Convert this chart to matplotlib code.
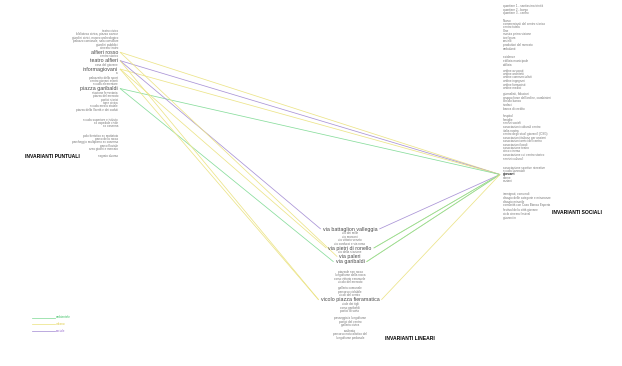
import matplotlib
matplotlib.use("Agg")
import matplotlib.pyplot as plt

plt.rcParams['font.family'] = ['Liberation Sans', 'DejaVu Sans']

# ---------------- data ----------------
# each column is a list of groups of labels
puntuali = [
    ["teatro civico", "biblioteca civica, piazza cavour", "giardini civici, museo archeologico",
     "palazzo comunale, sala consiliare", "giardini pubblici", "cinema teatro",
     "alfieri rosso", "centro storico", "teatro alfieri", "casa del giovane", "informagiovani", "a"],
    ["palazzetto dello sport", "centro giovani eventi", "scuola elementare",
     "piazza garibaldi", "stazione ferroviaria", "piazza del mercato", "portici storici",
     "torre civica", "scuola media statale", "piazza della libertà e dei caduti"],
    ["scuola superiore e istituto", "ex ospedale civile", "ex caserma"],
    ["polo fieristico ex mattatoio", "parco della rocca", "parcheggio multipiano ex caserma",
     "parco fluviale", "area giochi e mercato"],
]

sociali = [
    ["quartiere 1 - santissima trinità", "quartiere 2 - borgo", "quartiere 3 - centro"],
    ["Nuovo", "commercianti del centro storico", "centro tutela", "Cine",
     "mostra prima visione", "cineforum", "cestelli", "produttori del mercato", "ambulanti"],
    ["residenze", "edilizia municipale", "edilizia"],
    ["ordine avvocati", "ordine architetti", "ordine commercialisti", "ordine ingegneri",
     "ordine farmacisti", "ordine medici"],
    ["giornalisti, fiduciari", "gruppo forze dell'ordine, carabinieri", "circolo banca",
     "sindaci", "banca di credito"],
    ["hospital", "famiglie", "servizi sociali", "associazioni culturali centro",
     "italia nostra", "centro degli studi giovanili (CSG)", "associazioni italiane per anziani",
     "associazioni amici del centro", "associazioni locali", "associazione teatro",
     "circo cinema", "associazione cui centro storico", "servizi culturali"],
    ["associazione sportive ricreative", "scuola lavoratori", "giovani", "donne", "anziani"],
    ["immigrati, comunali", "disagio delle categorie e minoranze", "disagio minorile",
     "comunità con Casa Bianca Esperia"],
    ["festival della città giovane", "ciclo cinema festival", "giovani in"],
]

lineari = [
    ["via battaglion valleggia", "via dei mille", "via marconi", "via vittorio veneto",
     "via carducci e via roma", "via pietri di ronello", "via della stazione",
     "via paleri", "via garibaldi"],
    ["piazzale san rocco", "lungofiume della rocca", "corso vittorio emanuele", "vicolo del mercato"],
    ["galleria comunale", "percorso ciclabile", "vicoli del centro",
     "vicolo piazza fieramatica", "viale dei tigli", "corso garibaldi", "portici di sotto"],
    ["passeggiata lungofiume", "portici del centro", "galleria civica"],
    ["scalinata", "percorso naturalistico del", "lungofiume pedonale"],
]

hub_puntuali = ["alfieri rosso", "teatro alfieri", "informagiovani", "piazza garibaldi"]
hub_sociali = ["giovani"]
hub_lineari = ["via battaglion valleggia", "via pietri di ronello", "via paleri",
               "via garibaldi", "vicolo piazza fieramatica"]

categorie = ["ambientale", "urbano", "sociale"]
colori = ["#88dd9c", "#ece488", "#a993d6"]
colori_testo = ["#3cc063", "#dcc83a", "#9a6fd0"]

# links: source, target, category index
link_src = ["alfieri rosso", "teatro alfieri", "informagiovani", "piazza garibaldi",
            "teatro alfieri", "piazza garibaldi", "informagiovani", "alfieri rosso",
            "informagiovani", "teatro alfieri",
            "giovani", "giovani", "giovani", "giovani", "giovani", "giovani"]
link_dst = ["giovani", "giovani", "giovani", "giovani",
            "via battaglion valleggia", "via garibaldi", "via pietri di ronello", "via paleri",
            "vicolo piazza fieramatica", "vicolo piazza fieramatica",
            "via battaglion valleggia", "via pietri di ronello", "via pietri di ronello",
            "via garibaldi", "via garibaldi", "vicolo piazza fieramatica"]
link_cat = [1, 2, 1, 0,
            2, 0, 1, 1, 1, 1,
            2, 1, 0, 1, 0, 1]

# ---------------- layout ----------------
start_p = [31, 77.5, 119.5, 135.5]
start_s = [6, 20.5, 57.5, 70.5, 94.5, 116.5, 167.5, 194.5, 210.5]
start_l = [228.2, 271.5, 288.5, 318, 330.5]

fig = plt.figure(figsize=(6.22, 3.66), dpi=100)
ax = fig.add_axes([0, 0, 1, 1])
ax.set_xlim(0, 622)
ax.set_ylim(366, 0)
ax.axis('off')

small_fs = 2.2
big_fs = 3.8
title_fs = 3.6


def draw_column(groups, starts, hubs, x, ha, dy, bold_hubs=False):
    out = {}
    for grp, y in zip(groups, starts):
        for lab in grp:
            if lab in hubs and not bold_hubs:
                y += 0.8
                out[lab] = ax.text(x, y, lab, fontsize=big_fs, ha=ha, va='center', color='#4a4a4a')
                y += dy + 0.8
            elif lab in hubs:
                out[lab] = ax.text(x, y, lab, fontsize=small_fs + 0.3, ha=ha, va='center',
                                   color='#222222', fontweight='bold')
                y += dy
            else:
                ax.text(x, y, lab, fontsize=small_fs, ha=ha, va='center', color='#777777')
                y += dy
    return out


txt_p = draw_column(puntuali, start_p, hub_puntuali, 118, 'right', 3.4)
txt_s = draw_column(sociali, start_s, hub_sociali, 503, 'left', 3.5, bold_hubs=True)
txt_l = draw_column(lineari, start_l, hub_lineari, 350, 'center', 3.5)

ax.text(25, 156.5, "INVARIANTI PUNTUALI", fontsize=title_fs, fontweight='bold', ha='left', va='center')
ax.text(552, 212, "INVARIANTI SOCIALI", fontsize=title_fs, fontweight='bold', ha='left', va='center')
ax.text(385, 338, "INVARIANTI LINEARI", fontsize=title_fs, fontweight='bold', ha='left', va='center')
ax.text(118, 156.5, "sagrato duomo", fontsize=small_fs, ha='right', va='center', color='#777777')

fig.canvas.draw()
inv = ax.transData.inverted()


def extent(t):
    bb = t.get_window_extent()
    (x0, y0), (x1, y1) = inv.transform([[bb.x0, bb.y0], [bb.x1, bb.y1]])
    return x0, x1, (y0 + y1) / 2


def anchor(name, side):
    if name in txt_p:
        x0, x1, y = extent(txt_p[name])
        return x1 + 2, y
    if name in txt_s:
        x0, x1, y = extent(txt_s[name])
        return x0 - 3, y
    x0, x1, y = extent(txt_l[name])
    if side == 'left':
        return x0 - 2, y
    return x1 + 2, y


for s, d, c in zip(link_src, link_dst, link_cat):
    side = 'left' if s in txt_p else 'right'
    xa, ya = anchor(s, side)
    xb, yb = anchor(d, side)
    ax.plot([xa, xb], [ya, yb], color=colori[c], lw=0.55, solid_capstyle='butt')

# legend
for i, (lab, col, tcol) in enumerate(zip(categorie, colori, colori_testo)):
    yy = 317.5 + i * 6.5
    ax.plot([32, 55], [yy, yy], color=col, lw=0.55)
    ax.text(56, yy, lab, fontsize=small_fs, color=tcol, ha='left', va='center')

fig.savefig("out.png", dpi=100, facecolor='white')
